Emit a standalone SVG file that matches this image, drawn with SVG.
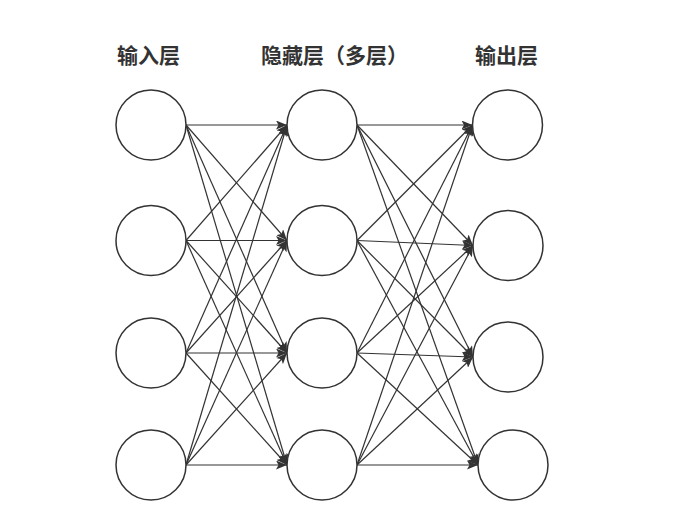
<svg xmlns="http://www.w3.org/2000/svg" width="698" height="520" viewBox="0 0 698 520">
<style>
.node{fill:#ffffff;stroke:#333333;stroke-width:1.5}
.edge{stroke:#333333;stroke-width:1.2;fill:none;marker-end:url(#arr)}
.lbl{font-family:"Noto Sans CJK SC","Noto Sans",sans-serif;font-weight:bold;font-size:21px;fill:#333333}
</style>
<defs>
<marker id="arr" markerUnits="userSpaceOnUse" markerWidth="12" markerHeight="9" refX="11" refY="4.5" orient="auto">
<path d="M0,0 L11,4.5 L0,9 L2.5,4.5 z" fill="#333333"/>
</marker>
</defs>
<rect width="698" height="520" fill="#ffffff"/>
<g id="labels">
<text class="lbl" x="117" y="63">输入层</text>
<text class="lbl" x="261" y="63">隐藏层（多层）</text>
<text class="lbl" x="475" y="63">输出层</text>
</g>
<g id="connectors">
<line class="edge" x1="186" y1="125" x2="287" y2="125"/>
<line class="edge" x1="186" y1="125" x2="287" y2="240.5"/>
<line class="edge" x1="186" y1="125" x2="287" y2="353"/>
<line class="edge" x1="186" y1="125" x2="287" y2="465"/>
<line class="edge" x1="186" y1="240.5" x2="287" y2="125"/>
<line class="edge" x1="186" y1="240.5" x2="287" y2="240.5"/>
<line class="edge" x1="186" y1="240.5" x2="287" y2="353"/>
<line class="edge" x1="186" y1="240.5" x2="287" y2="465"/>
<line class="edge" x1="186" y1="353" x2="287" y2="125"/>
<line class="edge" x1="186" y1="353" x2="287" y2="240.5"/>
<line class="edge" x1="186" y1="353" x2="287" y2="353"/>
<line class="edge" x1="186" y1="353" x2="287" y2="465"/>
<line class="edge" x1="186" y1="465" x2="287" y2="125"/>
<line class="edge" x1="186" y1="465" x2="287" y2="240.5"/>
<line class="edge" x1="186" y1="465" x2="287" y2="353"/>
<line class="edge" x1="186" y1="465" x2="287" y2="465"/>
<line class="edge" x1="357" y1="125" x2="472.5" y2="125"/>
<line class="edge" x1="357" y1="125" x2="473" y2="245.5"/>
<line class="edge" x1="357" y1="125" x2="473" y2="357"/>
<line class="edge" x1="357" y1="125" x2="478" y2="465"/>
<line class="edge" x1="357" y1="240.5" x2="472.5" y2="125"/>
<line class="edge" x1="357" y1="240.5" x2="473" y2="245.5"/>
<line class="edge" x1="357" y1="240.5" x2="473" y2="357"/>
<line class="edge" x1="357" y1="240.5" x2="478" y2="465"/>
<line class="edge" x1="357" y1="353" x2="472.5" y2="125"/>
<line class="edge" x1="357" y1="353" x2="473" y2="245.5"/>
<line class="edge" x1="357" y1="353" x2="473" y2="357"/>
<line class="edge" x1="357" y1="353" x2="478" y2="465"/>
<line class="edge" x1="357" y1="465" x2="472.5" y2="125"/>
<line class="edge" x1="357" y1="465" x2="473" y2="245.5"/>
<line class="edge" x1="357" y1="465" x2="473" y2="357"/>
<line class="edge" x1="357" y1="465" x2="478" y2="465"/>
</g>
<g id="in1"><circle class="node" cx="151" cy="125" r="35"/></g>
<g id="in2"><circle class="node" cx="151" cy="240.5" r="35"/></g>
<g id="in3"><circle class="node" cx="151" cy="353" r="35"/></g>
<g id="in4"><circle class="node" cx="151" cy="465" r="35"/></g>
<g id="h1"><circle class="node" cx="322" cy="125" r="35"/></g>
<g id="h2"><circle class="node" cx="322" cy="240.5" r="35"/></g>
<g id="h3"><circle class="node" cx="322" cy="353" r="35"/></g>
<g id="h4"><circle class="node" cx="322" cy="465" r="35"/></g>
<g id="out1"><circle class="node" cx="507.5" cy="125" r="35"/></g>
<g id="out2"><circle class="node" cx="508" cy="245.5" r="35"/></g>
<g id="out3"><circle class="node" cx="508" cy="357" r="35"/></g>
<g id="out4"><circle class="node" cx="513" cy="465" r="35"/></g>
</svg>
